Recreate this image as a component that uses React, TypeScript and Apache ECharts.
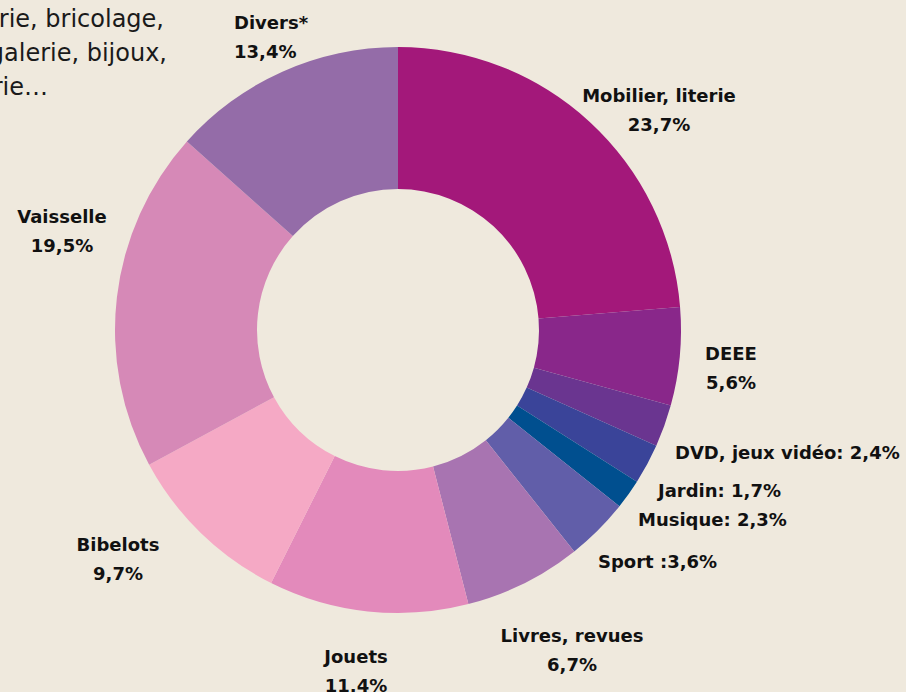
import React, { useEffect, useRef } from "react";
import * as echarts from "echarts";

const categories = [
  "Mobilier, literie",
  "DEEE",
  "DVD, jeux vidéo",
  "Musique",
  "Jardin",
  "Sport",
  "Livres, revues",
  "Jouets",
  "Bibelots",
  "Vaisselle",
  "Divers*",
];
const values = [23.7, 5.6, 2.4, 2.3, 1.7, 3.6, 6.7, 11.4, 9.7, 19.5, 13.4];
const separators = ["\n", "\n", ": ", ": ", ": ", " :", "\n", "\n", "\n", "\n", "\n"];
const colors = [
  "#a3187a",
  "#89278a",
  "#6a3590",
  "#3a4499",
  "#004f8f",
  "#615ea9",
  "#a874b1",
  "#e38abb",
  "#f5a9c5",
  "#d689b7",
  "#946ca8",
];
// label anchor positions [x, y, align]
const labelPos: [number, number, string][] = [
  [659, 110, "center"],
  [731, 368, "center"],
  [675, 452, "left"],
  [638, 519, "left"],
  [658, 490, "left"],
  [598, 561, "left"],
  [572, 650, "center"],
  [356, 671, "center"],
  [118, 559, "center"],
  [62, 231, "center"],
  [234, 37, "left"],
];
const noteLines = ["Quincaillerie, bricolage,", "mercerie, galerie, bijoux,", "lingerie…"];
const noteRight = [164, 167, 48];

const fmt = (v: number) => v.toFixed(1).replace(".", ",") + "%";

export default function App() {
  const ref = useRef<HTMLDivElement>(null);
  useEffect(() => {
    if (!ref.current) return;
    const chart = echarts.init(ref.current, undefined, { renderer: "svg" });
    chart.setOption({
      animation: false,
      backgroundColor: "#efe9dd",
      graphic: noteLines.map((t, i) => ({
        type: "text",
        x: noteRight[i],
        y: 19 + i * 34,
        style: {
          text: t,
          align: "right",
          verticalAlign: "middle",
          fontFamily: "DejaVu Sans",
          fontSize: 24,
          fontWeight: 400,
          fill: "#1a1a1a",
        },
      })),
      series: [
        {
          type: "pie",
          center: [398, 330],
          radius: [141, 283],
          startAngle: 90,
          clockwise: true,
          avoidLabelOverlap: false,
          itemStyle: { borderWidth: 0 },
          label: {
            show: true,
            position: "outside",
            fontFamily: "DejaVu Sans",
            fontWeight: 700,
            fontSize: 18,
            lineHeight: 29,
            color: "#111111",
            formatter: (p: any) => categories[p.dataIndex] + separators[p.dataIndex] + fmt(values[p.dataIndex]),
          },
          labelLine: { show: false },
          labelLayout: (params: any) => {
            const lp = labelPos[params.dataIndex];
            return { x: lp[0], y: lp[1], align: lp[2], verticalAlign: "middle" };
          },
          data: categories.map((c, i) => ({
            name: c,
            value: values[i],
            itemStyle: { color: colors[i] },
            label: { align: labelPos[i][2] },
          })),
        },
      ],
    });
    return () => chart.dispose();
  }, []);
  return (
    <div
      ref={ref}
      style={{ position: "fixed", left: 0, top: 0, width: 906, height: 692, background: "#efe9dd" }}
    />
  );
}
